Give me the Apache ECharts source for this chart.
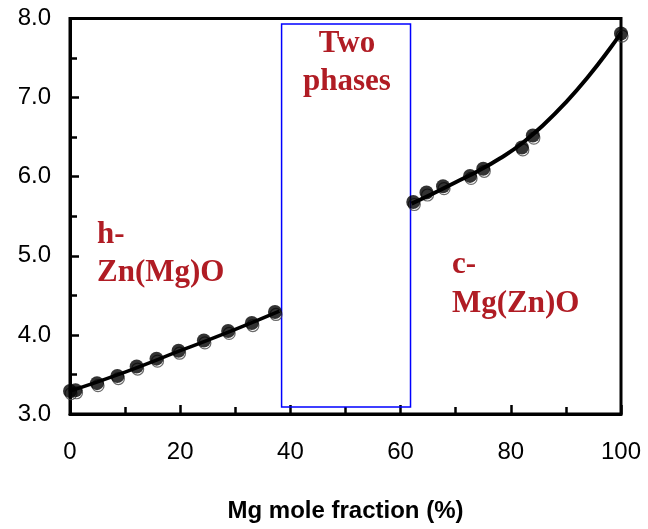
<!DOCTYPE html>
<html>
<head>
<meta charset="utf-8">
<script src="https://cdn.jsdelivr.net/npm/echarts@6/dist/echarts.min.js"></script>
<style>
  html, body { margin: 0; padding: 0; background: #fff; }
  #chart { width: 648px; height: 529px; }
</style>
</head>
<body>
<div id="chart"></div>
<script>
// Measured points: hexagonal (wurtzite) phase
const hexX = [0, 1, 4.9, 8.6, 12.1, 15.7, 19.7, 24.3, 28.7, 33.0, 37.2];
const hexY = [3.29, 3.30, 3.39, 3.48, 3.60, 3.70, 3.80, 3.93, 4.05, 4.15, 4.29];

// Measured points: cubic (rocksalt) phase
const cubX = [62.3, 64.7, 67.7, 72.6, 75.0, 82.0, 84.0, 100];
const cubY = [5.68, 5.80, 5.88, 6.01, 6.10, 6.37, 6.52, 7.81];

// Fitted trend lines
const hexFitX = [0, 10, 20, 30, 38];
const hexFitY = [3.29, 3.53, 3.80, 4.07, 4.30];
const cubFitX = [62, 66, 70, 74, 78, 82, 86, 90, 94, 98, 100];
const cubFitY = [5.66, 5.79, 5.93, 6.07, 6.23, 6.42, 6.66, 6.94, 7.26, 7.62, 7.82];

// Two-phase coexistence window (x range, y range)
const twoPhaseX = [38.4, 61.8];
const twoPhaseY = [3.09, 7.93];

// Axis tick values
const xTicks = [0, 20, 40, 60, 80, 100];
const yTicks = [3.0, 4.0, 5.0, 6.0, 7.0, 8.0];

const zip = (xs, ys) => xs.map((x, i) => [x, ys[i]]);

const RED = '#b01c24';
const labelFont = 'bold 31px "Liberation Serif", "Times New Roman", serif';

const chart = echarts.init(document.getElementById('chart'), null, { renderer: 'canvas' });

const tickStyle = { color: '#000', width: 2.5 };

chart.setOption({
  animation: false,
  backgroundColor: '#fff',
  grid: {
    left: 70, right: 27, top: 18.5, bottom: 115,
    show: true, borderColor: '#000', borderWidth: 3, backgroundColor: 'transparent'
  },
  xAxis: {
    type: 'value',
    min: xTicks[0], max: xTicks[xTicks.length - 1], interval: 20,
    name: 'Mg mole fraction (%)',
    nameLocation: 'middle',
    nameGap: 85,
    nameTextStyle: { fontFamily: 'Liberation Sans, Arial, sans-serif', fontWeight: 'bold', fontSize: 24, color: '#000' },
    axisLine: { show: true, onZero: false, lineStyle: { color: '#000', width: 3 } },
    axisTick: { show: true, inside: true, length: 9, lineStyle: tickStyle },
    minorTick: { show: true, splitNumber: 2, length: 7, lineStyle: tickStyle },
    splitLine: { show: false },
    axisLabel: { fontFamily: 'Liberation Sans, Arial, sans-serif', fontSize: 24, color: '#000', margin: 26 }
  },
  yAxis: {
    type: 'value',
    min: yTicks[0], max: yTicks[yTicks.length - 1], interval: 1,
    axisLine: { show: true, onZero: false, lineStyle: { color: '#000', width: 3 } },
    axisTick: { show: true, inside: true, length: 9, lineStyle: tickStyle },
    minorTick: { show: true, splitNumber: 2, length: 7, lineStyle: tickStyle },
    splitLine: { show: false },
    axisLabel: {
      fontFamily: 'Liberation Sans, Arial, sans-serif', fontSize: 24, color: '#000', margin: 19,
      formatter: v => v.toFixed(1)
    }
  },
  series: [
    {
      type: 'line', name: 'two-phase',
      data: [], silent: true,
      markArea: {
        silent: true,
        itemStyle: { color: 'rgba(0,0,0,0)', borderColor: '#0000ff', borderWidth: 1.5 },
        data: [[{ coord: [twoPhaseX[0], twoPhaseY[1]] }, { coord: [twoPhaseX[1], twoPhaseY[0]] }]]
      }
    },
    {
      type: 'line', name: 'hex-fit', data: zip(hexFitX, hexFitY), smooth: true,
      showSymbol: false, lineStyle: { color: '#000', width: 3.5 }, z: 3
    },
    {
      type: 'line', name: 'cub-fit', data: zip(cubFitX, cubFitY), smooth: true,
      showSymbol: false, lineStyle: { color: '#000', width: 4 }, z: 3
    },
    // faint offset rings beneath each marker
    {
      type: 'scatter', name: 'hex-ring', data: zip(hexX, hexY), symbol: 'circle', symbolSize: 12,
      symbolOffset: [1, 2.5], itemStyle: { color: 'rgba(0,0,0,0)', borderColor: '#444', borderWidth: 1.2 }, z: 2
    },
    {
      type: 'scatter', name: 'cub-ring', data: zip(cubX, cubY), symbol: 'circle', symbolSize: 12,
      symbolOffset: [1, 2.5], itemStyle: { color: 'rgba(0,0,0,0)', borderColor: '#444', borderWidth: 1.2 }, z: 2
    },
    {
      type: 'scatter', name: 'h-Zn(Mg)O', data: zip(hexX, hexY), symbol: 'circle', symbolSize: 14,
      itemStyle: { color: '#000' }, z: 4
    },
    {
      type: 'scatter', name: 'c-Mg(Zn)O', data: zip(cubX, cubY), symbol: 'circle', symbolSize: 14,
      itemStyle: { color: '#000' }, z: 4
    }
  ],
  graphic: [
    { type: 'text', x: 347, y: 59, style: { text: 'Two', font: labelFont, fill: RED, textAlign: 'center', textVerticalAlign: 'bottom' }, z: 10 },
    { type: 'text', x: 347, y: 97, style: { text: 'phases', font: labelFont, fill: RED, textAlign: 'center', textVerticalAlign: 'bottom' }, z: 10 },
    { type: 'text', x: 97, y: 250, style: { text: 'h-', font: labelFont, fill: RED, textAlign: 'left', textVerticalAlign: 'bottom' }, z: 10 },
    { type: 'text', x: 97, y: 288, style: { text: 'Zn(Mg)O', font: labelFont, fill: RED, textAlign: 'left', textVerticalAlign: 'bottom' }, z: 10 },
    { type: 'text', x: 452, y: 280, style: { text: 'c-', font: labelFont, fill: RED, textAlign: 'left', textVerticalAlign: 'bottom' }, z: 10 },
    { type: 'text', x: 452, y: 319, style: { text: 'Mg(Zn)O', font: labelFont, fill: RED, textAlign: 'left', textVerticalAlign: 'bottom' }, z: 10 }
  ]
});
</script>
</body>
</html>
